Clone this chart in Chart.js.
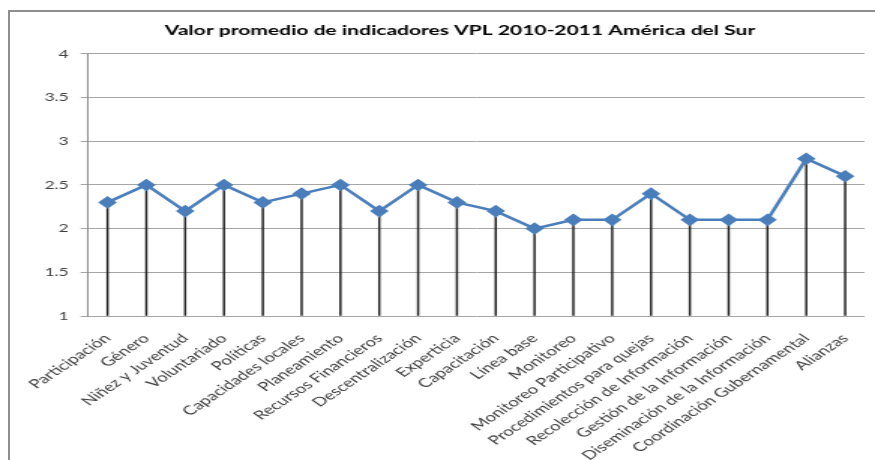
<!DOCTYPE html>
<html>
<head>
<meta charset="utf-8">
<script src="https://cdn.jsdelivr.net/npm/chart.js@4.4.1/dist/chart.umd.min.js"></script>
<style>
  html, body { margin: 0; padding: 0; background: #fff; overflow: hidden; }
  #frame {
    position: absolute; left: 8px; top: 10px; width: 900px; height: 470px;
    border-left: 2px solid #8f8f8f; border-top: 2px solid #8f8f8f;
  }
  /* the chart is laid out narrow and stretched sideways */
  #wrap {
    position: absolute; left: 0; top: 0; width: 583px; height: 460px;
    transform: scaleX(1.5009); transform-origin: 0 0;
  }
</style>
</head>
<body>
<div id="frame"></div>
<div id="wrap"><canvas id="vplChart" width="583" height="460" style="width:583px;height:460px"></canvas></div>
<script>
const categories = [
  'Participación', 'Género', 'Niñez y Juventud', 'Voluntariado', 'Políticas',
  'Capacidades locales', 'Planeamiento', 'Recursos Financieros', 'Descentralización',
  'Experticia', 'Capacitación', 'Línea base', 'Monitoreo', 'Monitoreo Participativo',
  'Procedimientos para quejas', 'Recolección de Información', 'Gestión de la Información',
  'Diseminación de la Información', 'Coordinación Gubernamental', 'Alianzas'
];
const promedio = [2.3, 2.5, 2.2, 2.5, 2.3, 2.4, 2.5, 2.2, 2.5, 2.3,
                  2.2, 2.0, 2.1, 2.1, 2.4, 2.1, 2.1, 2.1, 2.8, 2.6];
const yTicks = [1, 1.5, 2, 2.5, 3, 3.5, 4];

// nudges the title to the centre of the (wider) chart frame
const titleShift = {
  id: 'titleShift',
  afterLayout(chart) {
    const t = chart.titleBlock;
    if (t) { t.left += 18; t.right += 18; }
  }
};

const ctx = document.getElementById('vplChart').getContext('2d');
new Chart(ctx, {
  data: {
    labels: categories,
    datasets: [
      {
        type: 'line',
        label: 'Promedio',
        data: promedio,
        borderColor: '#4a7ebb',
        borderWidth: 2.5,
        pointStyle: 'rectRot',
        pointRadius: 4.5,
        pointBackgroundColor: '#4a7ebb',
        pointBorderColor: '#4a7ebb',
        tension: 0,
        order: 0
      },
      {
        // drop lines from each point down to the axis
        type: 'bar',
        label: 'Líneas',
        data: promedio,
        base: yTicks[0],
        backgroundColor: '#1e1e1e',
        barThickness: 0.8,
        order: 1
      }
    ]
  },
  options: {
    responsive: false,
    animation: false,
    layout: { padding: { left: 0, right: 6, top: 0, bottom: 0 } },
    plugins: {
      legend: { display: false },
      tooltip: { enabled: false },
      title: {
        display: true,
        text: 'Valor promedio de indicadores VPL 2010-2011 América del Sur',
        color: '#000',
        font: { family: 'Lato', size: 14, weight: 'bold' },
        padding: { top: 22, bottom: 15 }
      }
    },
    scales: {
      x: {
        offset: true,
        grid: { display: false },
        border: { display: false },
        afterFit: s => { s.height = 144; },
        ticks: {
          autoSkip: false,
          minRotation: 45,
          maxRotation: 45,
          padding: 7,
          color: '#404040',
          font: { family: 'Lato', size: 12.5 }
        }
      },
      y: {
        min: yTicks[0],
        max: yTicks[yTicks.length - 1],
        afterBuildTicks: s => { s.ticks = yTicks.map(v => ({ value: v })); },
        afterFit: s => { s.width = 58.7; },
        grid: { color: '#a6a6a6', tickLength: 5 },
        border: { color: '#8c8c8c' },
        ticks: {
          padding: 8,
          color: '#404040',
          font: { family: 'Lato', size: 11.5 },
          callback: v => String(v)
        }
      }
    }
  },
  plugins: [titleShift]
});
</script>
</body>
</html>
